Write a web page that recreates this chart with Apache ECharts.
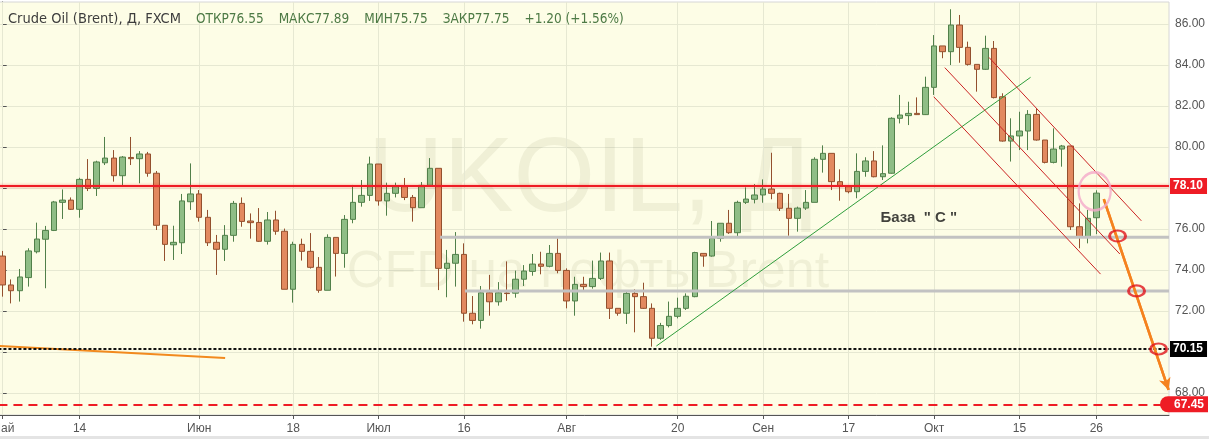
<!DOCTYPE html>
<html><head><meta charset="utf-8">
<script src="https://cdn.jsdelivr.net/npm/echarts@6/dist/echarts.min.js"></script>
<style>html,body{margin:0;padding:0;background:#fff}#c{width:1209px;height:439px}</style>
</head><body><div id="c"></div>
<script>
// ---- header ----
const headerName = 'Crude Oil (Brent), Д, FXCM';
const ohlcLabels = ['ОТКР', 'МАКС', 'МИН', 'ЗАКР'];
const ohlcValues = ['76.55', '77.89', '75.75', '77.75'];
const changeText = '+1.20 (+1.56%)';

// ---- categories: trading days from 1 May 2018 (last 8 are empty future days) ----
const categoryCount = 137;
const categories = [];
(function () {
  let d = new Date(Date.UTC(2018, 4, 1));
  while (categories.length < categoryCount) {
    const wd = d.getUTCDay();
    if (wd !== 0 && wd !== 6) categories.push(d.toISOString().slice(0, 10));
    d = new Date(d.getTime() + 86400000);
  }
})();

// ---- x tick labels ----
const tickDates = ['2018-05-01','2018-05-14','2018-06-01','2018-06-18','2018-07-02','2018-07-16','2018-08-01','2018-08-20','2018-09-03','2018-09-17','2018-10-01','2018-10-15','2018-10-26'];
const tickTexts = ['Май','14','Июн','18','Июл','16','Авг','20','Сен','17','Окт','15','26'];

// ---- y tick labels ----
const yTicks = [68, 70, 72, 74, 76, 78, 80, 82, 84, 86];

// ---- candles: [open, close, low, high] ----
const opens  = [74.68,73.27,72.99,73.63,74.89,75.50,75.93,77.30,77.41,76.96,78.42,77.98,79.23,79.46,78.60,79.49,79.43,79.66,78.72,76.18,75.23,75.33,77.33,77.71,76.57,75.35,75.01,75.69,77.25,76.39,76.32,75.40,76.44,75.89,73.06,75.25,74.91,74.13,73.01,75.59,74.81,76.47,77.30,77.64,79.17,77.37,77.74,78.07,77.54,77.04,78.13,78.96,74.08,74.33,74.76,71.89,71.54,72.89,72.45,72.88,72.87,73.55,73.93,74.29,74.18,74.81,73.98,72.49,73.30,73.19,73.59,74.44,72.13,71.89,72.86,72.70,72.13,70.67,71.29,71.74,72.13,72.70,74.81,74.68,75.54,76.28,75.82,77.30,77.45,77.66,77.95,77.74,77.01,76.52,77.02,77.30,79.40,79.69,78.31,78.07,77.82,78.81,79.32,78.55,78.72,81.40,81.53,81.64,81.58,82.91,84.93,84.65,85.95,84.86,84.03,83.79,84.81,82.45,80.29,80.54,80.78,81.59,80.34,79.25,79.90,80.05,76.11,75.59,76.55];
const closes = [73.27,72.99,73.66,74.93,75.51,75.93,77.32,77.41,76.96,78.42,77.98,79.27,79.46,78.60,79.51,79.43,79.66,78.72,76.18,75.25,75.35,77.37,77.71,76.57,75.33,75.01,75.69,77.25,76.37,76.31,75.40,76.44,75.89,73.06,75.25,74.91,74.13,73.01,75.59,74.81,76.47,77.30,77.64,79.17,77.37,77.74,78.07,77.54,77.04,78.13,78.96,74.08,74.33,74.76,71.89,71.54,72.89,72.45,72.89,72.85,73.55,73.95,74.29,74.18,74.81,73.98,72.49,73.30,73.19,73.59,74.44,72.13,71.89,72.86,72.70,72.13,70.67,71.29,71.74,72.13,72.72,74.85,74.68,75.54,76.28,75.82,77.30,77.46,77.66,77.95,77.74,77.01,76.52,77.02,77.30,79.40,79.69,78.31,78.07,77.82,78.81,79.32,78.55,78.70,81.40,81.56,81.64,81.58,82.91,84.93,84.65,85.95,84.86,84.03,83.79,84.81,82.41,80.29,80.54,80.78,81.59,80.34,79.25,79.90,80.05,76.11,75.59,76.52,77.75];
const lows   = [72.70,72.37,72.46,73.19,74.81,73.11,75.90,76.49,76.93,76.55,77.85,77.61,79.12,78.31,78.07,79.12,78.23,78.55,75.95,74.44,74.49,74.78,76.93,76.36,75.17,73.76,74.44,75.38,76.11,75.53,75.37,75.24,75.72,73.06,72.41,74.46,74.07,72.89,73.01,73.68,74.11,76.28,77.09,77.37,77.14,76.65,77.54,77.41,76.36,77.04,78.10,73.02,72.67,73.19,71.48,71.35,71.14,71.77,72.26,72.50,72.65,73.22,73.72,73.79,74.13,73.84,72.13,71.77,72.94,73.09,73.51,71.61,71.77,71.37,70.96,72.10,70.26,70.59,71.20,71.64,72.05,72.67,74.16,74.65,75.38,75.76,75.66,77.22,77.25,77.28,77.45,76.88,75.67,75.87,76.93,77.30,78.75,77.90,77.38,77.74,77.50,78.55,78.52,78.39,78.70,81.15,81.07,81.56,81.56,82.54,84.33,84.00,84.11,83.97,82.70,83.76,82.37,80.26,79.29,79.85,79.85,80.31,79.20,79.20,79.04,75.95,75.06,75.30,75.75];
const highs  = [74.93,73.54,74.05,75.06,76.31,76.15,77.37,77.93,77.54,78.50,79.41,79.33,80.49,79.85,79.56,80.49,79.80,79.76,78.83,76.18,76.16,77.71,79.20,77.90,76.93,75.71,76.19,77.37,77.54,76.76,77.02,76.83,76.89,76.02,75.38,75.53,75.80,74.63,75.74,75.59,76.68,78.15,78.39,79.53,79.17,78.26,78.26,78.49,77.66,78.29,79.46,78.96,74.98,75.85,75.30,72.73,73.22,73.76,73.41,74.42,73.97,74.24,74.78,74.89,75.22,75.54,74.08,73.67,73.67,74.46,74.85,74.85,72.13,73.02,73.06,73.38,72.37,71.42,72.46,72.65,72.86,74.89,74.81,76.39,76.28,76.93,77.38,78.03,78.19,78.42,79.72,77.77,77.71,77.09,77.90,79.50,80.08,79.69,78.91,78.07,79.69,79.50,79.80,80.08,81.45,82.54,82.21,82.42,83.43,85.46,84.93,86.72,86.44,85.14,84.03,85.43,85.17,82.62,81.40,81.72,81.80,81.89,80.34,80.91,80.10,80.05,77.25,76.93,77.89];

// ---- horizontal levels ----
const redLevel = 78.10, lastClose = 77.75, blackLevel = 70.15, dashLevel = 67.45;

// ---- drawn annotations (x = trading-day index, y = price) ----
const grayLine1   = [[51.2, 75.60], [136.5, 75.60]];
const grayLine2   = [[54.1, 72.98], [136.5, 72.98]];
const orangeLeft  = [[-0.32, 70.29], [26.03, 69.71]];
const greenTrend  = [[76.5, 70.29], [120.3, 83.40]];
const channelA    = [[115.43, 84.37], [133.26, 76.40]];
const channelB    = [[110.26, 83.87], [130.75, 74.78]];
const channelC    = [[108.97, 82.45], [128.49, 73.80]];
const arrowPath   = [[128.87, 77.46], [136.45, 68.15]];
const redRings    = [[130.48, 75.66], [132.70, 72.98], [135.28, 70.15]];
const pinkRing    = [[127.8, 77.84]];
const baseText    = 'База  " С "';
const baseTextAt  = [102.73, 76.54];

const candleData = opens.map((o, i) => [o, closes[i], lows[i], highs[i]]);
const tickIndex = {};
tickDates.forEach((d, i) => { tickIndex[categories.indexOf(d)] = tickTexts[i]; });
const isTick = (idx) => tickIndex[idx] !== undefined;

const GRID = '#e6e8d2';
const AX = '#555';
const FONT = "'Liberation Sans', Arial, sans-serif";
const HFONT = "'DejaVu Sans Condensed', 'Liberation Sans Narrow', sans-serif";

function seg(data, color, width, z, type) {
  return { type: 'line', xAxisIndex: 1, yAxisIndex: 0, data: data, symbol: 'none', silent: true,
    z: z || 3, lineStyle: { color: color, width: width, type: type || 'solid' }, animation: false };
}

const head = '{n|' + headerName + '}   ' +
  ohlcLabels.map((l, i) => '{l|' + l + '}{v|' + ohlcValues[i] + '}').join('   ') +
  '   {v|' + changeText + '}';

const chart = echarts.init(document.getElementById('c'), null, { renderer: 'canvas' });
chart.setOption({
  animation: false,
  backgroundColor: '#ffffff',
  title: {
    left: 8, top: 10, padding: 0, text: head,
    textStyle: {
      fontWeight: 'normal',
      rich: {
        n: { fontFamily: HFONT, fontSize: 14.5, fontWeight: 'normal', color: '#3d3d3d' },
        l: { fontFamily: HFONT, fontSize: 13.5, fontWeight: 'normal', color: '#4d7a45' },
        v: { fontFamily: HFONT, fontSize: 13.5, fontWeight: 'normal', color: '#4d7a45' }
      }
    }
  },
  graphic: [
    { type: 'text', x: 590, y: 182, z: 1, silent: true,
      style: { text: 'UKOIL, Д', font: '105px Arial, "Liberation Sans", sans-serif', fill: 'rgba(60,60,0,0.065)', textAlign: 'center', textVerticalAlign: 'middle' } },
    { type: 'text', x: 588, y: 273, z: 1, silent: true,
      style: { text: 'CFD на нефть Brent', font: '52px Arial, "Liberation Sans", sans-serif', fill: 'rgba(60,60,0,0.065)', textAlign: 'center', textVerticalAlign: 'middle' } },
    { type: 'rect', shape: { x: 0, y: 436, width: 1209, height: 3 }, style: { fill: '#e4e4e4' }, silent: true }
  ],
  grid: { left: -1.57, right: 40, top: 2, bottom: 24, containLabel: false, outerBoundsMode: 'none',
    show: true, backgroundColor: '#fdfde6', borderColor: '#d6d6d6', borderWidth: 1 },
  xAxis: [
    {
      type: 'category', data: categories, boundaryGap: true,
      axisLine: { show: true, lineStyle: { color: AX } },
      axisTick: { show: true, alignWithLabel: true, length: 4, interval: (i) => isTick(i), lineStyle: { color: AX } },
      axisLabel: { interval: (i) => isTick(i), formatter: (v, i) => tickIndex[i] || '', color: '#555', fontSize: 12, fontFamily: FONT, margin: 8 },
      splitLine: { show: false }
    },
    { type: 'value', min: -0.5, max: 136.5, show: false }
  ],
  yAxis: {
    type: 'value', position: 'right', min: 66.9268, max: 87.0732, splitNumber: 10,
    axisLine: { show: true, lineStyle: { color: AX } },
    axisTick: { show: true, length: 4, customValues: yTicks, lineStyle: { color: AX } },
    axisLabel: { customValues: yTicks, formatter: (v) => Number(v).toFixed(2), color: '#555', fontSize: 12, fontFamily: FONT, margin: 6 },
    splitLine: { show: true, lineStyle: { color: GRID } }
  },
  series: [
    { type: 'line', xAxisIndex: 0, data: [], silent: true,
      markLine: { silent: true, z: 1, symbol: ['none', 'none'], label: { show: false },
        lineStyle: { color: GRID, type: 'solid', width: 1 },
        data: tickDates.map(d => ({ xAxis: d })) } },
    {
      type: 'candlestick', xAxisIndex: 0, yAxisIndex: 0, data: candleData, barWidth: 6, z: 2,
      itemStyle: { color: '#8fbd86', color0: '#e2895f', borderColor: '#51804a', borderColor0: '#93502e', borderWidth: 1 }
    },
    seg(grayLine1, '#c2c2c2', 3),
    seg(grayLine2, '#c2c2c2', 3),
    seg(orangeLeft, '#f28a1e', 2),
    seg(greenTrend, '#2f9e3c', 1),
    seg(channelA, '#cc2424', 1),
    seg(channelB, '#cc2424', 1),
    seg(channelC, '#cc2424', 1),
    Object.assign(seg(arrowPath, '#f5821f', 2.5, 6), {
      markLine: { silent: true, symbol: ['none', 'arrow'], symbolSize: [9, 12], label: { show: false },
        lineStyle: { color: '#f5821f', width: 2.5, type: 'solid' },
        data: [[{ coord: arrowPath[0] }, { coord: arrowPath[1] }]] }
    }),
    { type: 'scatter', xAxisIndex: 1, yAxisIndex: 0, data: redRings, symbol: 'circle', symbolSize: [16, 11], z: 7, silent: true,
      itemStyle: { color: 'rgba(0,0,0,0)', borderColor: '#e0141c', borderWidth: 2.5 } },
    { type: 'scatter', xAxisIndex: 1, yAxisIndex: 0, data: pinkRing, symbol: 'circle', symbolSize: [32, 38], z: 7, silent: true,
      itemStyle: { color: 'rgba(0,0,0,0)', borderColor: '#f4a9c9', borderWidth: 2.5 } },
    { type: 'scatter', xAxisIndex: 1, yAxisIndex: 0, data: [baseTextAt], symbolSize: 0, z: 7, silent: true,
      label: { show: true, position: 'right', distance: 0, formatter: baseText, color: '#111', fontSize: 15, fontWeight: 'bold', fontFamily: FONT } },
    { type: 'line', xAxisIndex: 0, data: [], silent: true,
      markLine: { silent: true, z: 4, symbol: ['none', 'none'],
        data: [{ yAxis: lastClose, lineStyle: { opacity: 0 },
          label: { show: true, position: 'end', distance: 1, formatter: lastClose.toFixed(2), color: '#fff', fontWeight: 'bold', fontSize: 12, fontFamily: FONT, backgroundColor: '#5f9f70', padding: [2, 4, 2, 3] } }] } },
    { type: 'line', xAxisIndex: 0, data: [], silent: true,
      markLine: { silent: true, z: 5, symbol: ['none', 'none'],
        data: [
          { yAxis: redLevel, lineStyle: { color: '#ee1c25', width: 2, type: 'solid', shadowColor: 'rgba(255,0,0,0.45)', shadowBlur: 3 },
            label: { show: true, position: 'end', distance: 1, formatter: redLevel.toFixed(2), color: '#fff', fontWeight: 'bold', fontSize: 12, fontFamily: FONT, backgroundColor: '#ee1c25', padding: [2, 4, 2, 3] } },
          { yAxis: blackLevel, lineStyle: { color: '#111', width: 2, type: [3, 2] },
            label: { show: true, position: 'end', distance: 1, formatter: blackLevel.toFixed(2), color: '#fff', fontWeight: 'bold', fontSize: 12, fontFamily: FONT, backgroundColor: '#000', padding: [2, 4, 2, 3] } },
          { yAxis: dashLevel, lineStyle: { color: '#ee1c25', width: 2, type: [9, 6] },
            label: { show: true, position: 'end', distance: -9, formatter: dashLevel.toFixed(2), color: '#fff', fontWeight: 'bold', fontSize: 12, fontFamily: FONT, backgroundColor: '#ee1c25', borderRadius: [8, 0, 0, 8], padding: [2, 4, 2, 14] } }
        ] } }
  ]
});
</script>
</body></html>
